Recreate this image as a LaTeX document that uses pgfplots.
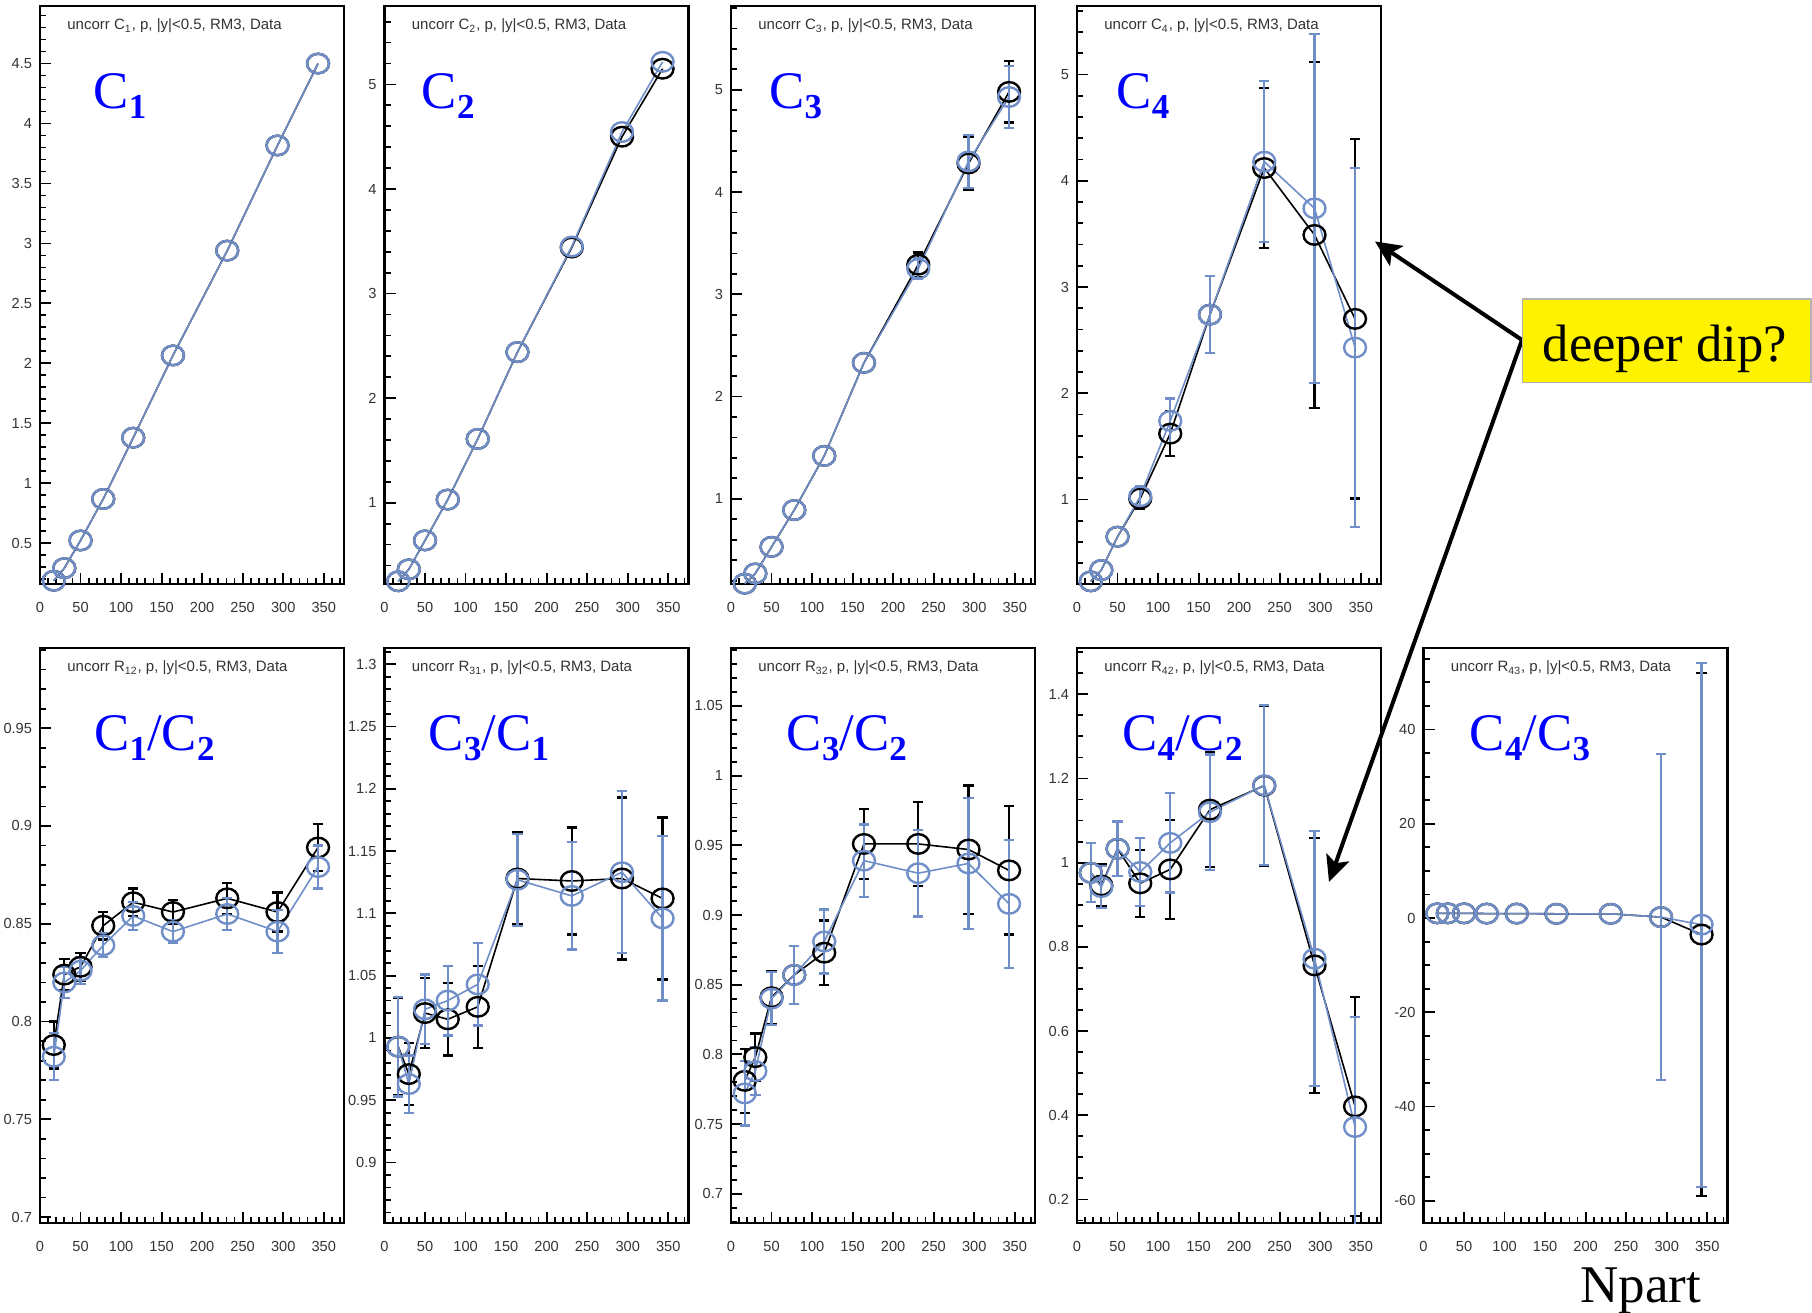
\documentclass[border=0pt]{standalone}
\usepackage{fontspec}
\setmainfont{Liberation Sans}
\newfontfamily\serif{Liberation Serif}
\usepackage{pgfplots}
\usepackage{pgfplotstable}
\pgfplotsset{compat=1.18}
\usetikzlibrary{arrows.meta}
\definecolor{myblue}{RGB}{112,143,200}
\pgfplotsset{
  panel/.style={
    scale only axis, width=152pt, anchor=south west,
    xmin=0, xmax=375,
    xtick={0,50,...,350}, minor xtick={10,20,...,370},
    xtick pos=bottom, ytick pos=left, tick align=inside,
    axis line style={line width=1.1pt},
    major tick length=5.5pt, minor tick length=3pt,
    tick style={black, line width=0.9pt},
    tick label style={font=\fontsize{7.3}{8}\selectfont, text=black!80},
    xticklabel style={yshift=-5.5pt},
    yticklabel style={xshift=-0.5pt},
    /pgf/number format/assume math mode=true,
  },
  toprow/.style={panel, height=289pt},
  botrow/.style={panel, height=287.5pt},
  blk/.style={black, line width=0.8pt, mark=o, mark size=4.9pt,
    mark options={line width=1.2pt, xscale=1.12}},
  blu/.style={blk, color=myblue},
  err/.style={draw=none, mark=none,
    error bars/y dir=both, error bars/y explicit,
    error bars/error bar style={draw=#1, line width=1.1pt},
    error bars/error mark options={draw=#1, rotate=90, mark size=2.6pt, line width=1.1pt},
    y filter/.expression={\thisrow{e}>0 ? y : nan}, unbounded coords=discard},
}
\newcommand{\ttl}[1]{\node[anchor=base west, inner sep=0, font=\fontsize{7.5}{8}\selectfont, text=black!80, xshift=13.5pt, yshift=-12pt] at (rel axis cs:0,1) {uncorr #1, p, |y|<0.5, RM3, Data};}
\newcommand{\Sb}[1]{\raisebox{-5pt}{\fontsize{17.5}{18}\selectfont\bfseries #1}}
\newcommand{\biglab}[2]{\node[anchor=base west, inner sep=0, text=blue, xshift=#1, yshift=-51.4pt] at (rel axis cs:0,1) {\serif\fontsize{26.4}{28}\selectfont #2};}
\newcommand{\pair}[2]{%
  \addplot[blk] table[x=x,y=y] {#1};
  \addplot[err=black] table[x=x,y=y,y error=e] {#1};
  \addplot[blu] table[x=x,y=y] {#2};
  \addplot[err=myblue] table[x=x,y=y,y error=e] {#2};
}
% ---- data: x = Npart, y = value, e = error (0 = bar hidden inside marker)
\pgfplotstableread[row sep=\\]{x y e\\17 0.187 0\\30 0.292 0\\50 0.523 0\\78 0.869 0\\115 1.38 0\\164 2.066 0\\231 2.94 0\\293 3.817 0\\343 4.5 0\\}\tAk
\pgfplotstableread[row sep=\\]{x y e\\17 0.187 0\\30 0.292 0\\50 0.523 0\\78 0.869 0\\115 1.38 0\\164 2.066 0\\231 2.94 0\\293 3.817 0\\343 4.5 0\\}\tAb
\pgfplotstableread[row sep=\\]{x y e\\17 0.249 0\\30 0.363 0\\50 0.64 0\\78 1.03 0\\115 1.61 0\\164 2.44 0\\231 3.44 0\\293 4.50 0\\343 5.15 0\\}\tBk
\pgfplotstableread[row sep=\\]{x y e\\17 0.249 0\\30 0.363 0\\50 0.64 0\\78 1.03 0\\115 1.61 0\\164 2.44 0\\231 3.45 0\\293 4.545 0\\343 5.216 0\\}\tBb
\pgfplotstableread[row sep=\\]{x y e\\17 0.17 0\\30 0.27 0\\50 0.53 0\\78 0.89 0\\115 1.42 0\\164 2.33 0\\231 3.29 0.12\\293 4.28 0.26\\343 4.98 0.3\\}\tCk
\pgfplotstableread[row sep=\\]{x y e\\17 0.17 0\\30 0.27 0\\50 0.53 0\\78 0.89 0\\115 1.42 0\\164 2.33 0\\231 3.25 0.1\\293 4.30 0.26\\343 4.93 0.3\\}\tCb
\pgfplotstableread[row sep=\\]{x y e\\17 0.23 0\\30 0.336 0\\50 0.65 0\\78 1.01 0.1\\115 1.62 0.21\\164 2.74 0.36\\231 4.12 0.75\\293 3.49 1.63\\343 2.70 1.69\\}\tDk
\pgfplotstableread[row sep=\\]{x y e\\17 0.23 0\\30 0.336 0\\50 0.65 0\\78 1.03 0.1\\115 1.74 0.21\\164 2.74 0.36\\231 4.18 0.76\\293 3.74 1.64\\343 2.43 1.69\\}\tDb
\pgfplotstableread[row sep=\\]{x y e\\17 0.788 0.012\\30 0.824 0.008\\50 0.828 0.007\\78 0.849 0.007\\115 0.861 0.007\\164 0.856 0.006\\231 0.863 0.008\\293 0.856 0.010\\343 0.889 0.012\\}\tEk
\pgfplotstableread[row sep=\\]{x y e\\17 0.782 0.012\\30 0.820 0.008\\50 0.826 0.007\\78 0.839 0.006\\115 0.854 0.007\\164 0.846 0.006\\231 0.855 0.008\\293 0.846 0.011\\343 0.879 0.011\\}\tEb
\pgfplotstableread[row sep=\\]{x y e\\17 0.993 0.039\\30 0.971 0.025\\50 1.020 0.028\\78 1.015 0.029\\115 1.025 0.033\\164 1.128 0.037\\231 1.126 0.043\\293 1.128 0.065\\343 1.112 0.065\\}\tFk
\pgfplotstableread[row sep=\\]{x y e\\17 0.993 0.040\\30 0.963 0.023\\50 1.023 0.028\\78 1.030 0.028\\115 1.043 0.033\\164 1.127 0.037\\231 1.114 0.043\\293 1.133 0.065\\343 1.096 0.066\\}\tFb
\pgfplotstableread[row sep=\\]{x y e\\17 0.781 0.023\\30 0.798 0.017\\50 0.841 0.019\\78 0.857 0.021\\115 0.873 0.023\\164 0.951 0.025\\231 0.951 0.030\\293 0.947 0.046\\343 0.932 0.046\\}\tGk
\pgfplotstableread[row sep=\\]{x y e\\17 0.772 0.023\\30 0.788 0.017\\50 0.840 0.019\\78 0.857 0.021\\115 0.881 0.023\\164 0.939 0.026\\231 0.930 0.031\\293 0.937 0.047\\343 0.908 0.046\\}\tGb
\pgfplotstableread[row sep=\\]{x y e\\17 0.976 0.07\\30 0.946 0.05\\50 1.033 0.065\\78 0.951 0.08\\115 0.984 0.118\\164 1.126 0.137\\231 1.183 0.19\\293 0.756 0.303\\343 0.421 0.26\\}\tHk
\pgfplotstableread[row sep=\\]{x y e\\17 0.976 0.07\\30 0.942 0.05\\50 1.033 0.065\\78 0.978 0.08\\115 1.047 0.118\\164 1.12 0.137\\231 1.184 0.19\\293 0.772 0.303\\343 0.372 0.262\\}\tHb
\pgfplotstableread[row sep=\\]{x y e\\17 1.0 0\\30 1.0 0\\50 1.0 0\\78 0.95 0\\115 0.95 0\\164 0.9 0\\231 0.9 0\\293 0.2 34.6\\343 -3.5 55.5\\}\tIk
\pgfplotstableread[row sep=\\]{x y e\\17 1.0 0\\30 1.0 0\\50 1.0 0\\78 0.95 0\\115 0.95 0\\164 0.9 0\\231 0.9 0\\293 0.2 34.6\\343 -1.4 55.6\\}\tIb
\begin{document}
\begin{tikzpicture}
\useasboundingbox (0,0) rectangle (906pt,656.5pt);
% ---------------- C1
\begin{axis}[toprow, at={(20pt,364.5pt)}, ymin=0.16, ymax=4.98,
  ytick={0.5,1,...,4.5}, minor ytick={0.2,0.3,...,4.95}]
\pair{\tAk}{\tAb}
\ttl{C\textsubscript{1}}
\biglab{26.6pt}{C\Sb{1}}
\end{axis}
% ---------------- C2
\begin{axis}[toprow, at={(192.25pt,364.5pt)}, ymin=0.223, ymax=5.75,
  ytick={1,2,3,4,5}, minor ytick={0.4,0.6,...,5.7}]
\pair{\tBk}{\tBb}
\ttl{C\textsubscript{2}}
\biglab{18.5pt}{C\Sb{2}}
\end{axis}
% ---------------- C3
\begin{axis}[toprow, at={(365.5pt,364.5pt)}, ymin=0.167, ymax=5.82,
  ytick={1,2,3,4,5}, minor ytick={0.2,0.4,...,5.8}]
\pair{\tCk}{\tCb}
\ttl{C\textsubscript{3}}
\biglab{19pt}{C\Sb{3}}
\end{axis}
% ---------------- C4
\begin{axis}[toprow, at={(538.5pt,364.5pt)}, ymin=0.205, ymax=5.645,
  ytick={1,2,3,4,5}, minor ytick={0.4,0.6,...,5.6}]
\pair{\tDk}{\tDb}
\ttl{C\textsubscript{4}}
\biglab{19.6pt}{C\Sb{4}}
\end{axis}
% ---------------- C1/C2
\begin{axis}[botrow, at={(20pt,45pt)}, ymin=0.697, ymax=0.991,
  ytick={0.7,0.75,...,0.96}, minor ytick={0.70,0.71,...,0.99}]
\pair{\tEk}{\tEb}
\ttl{R\textsubscript{12}}
\biglab{27pt}{C\Sb{1}/C\Sb{2}}
\end{axis}
% ---------------- C3/C1
\begin{axis}[botrow, at={(192.25pt,45pt)}, ymin=0.8515, ymax=1.313,
  ytick={0.9,0.95,...,1.31}, minor ytick={0.86,0.87,...,1.31}]
\pair{\tFk}{\tFb}
\ttl{R\textsubscript{31}}
\biglab{22pt}{C\Sb{3}/C\Sb{1}}
\end{axis}
% ---------------- C3/C2
\begin{axis}[botrow, at={(365.5pt,45pt)}, ymin=0.679, ymax=1.0916,
  ytick={0.7,0.75,...,1.06}, minor ytick={0.68,0.69,...,1.09}]
\pair{\tGk}{\tGb}
\ttl{R\textsubscript{32}}
\biglab{27.7pt}{C\Sb{3}/C\Sb{2}}
\end{axis}
% ---------------- C4/C2
\begin{axis}[botrow, at={(538.5pt,45pt)}, ymin=0.144, ymax=1.51,
  ytick={0.2,0.4,...,1.41}, minor ytick={0.15,0.2,...,1.5}]
\pair{\tHk}{\tHb}
\ttl{R\textsubscript{42}}
\biglab{22.5pt}{C\Sb{4}/C\Sb{2}}
\end{axis}
% ---------------- C4/C3
\begin{axis}[botrow, at={(711.75pt,45pt)}, ymin=-64.7, ymax=57.3,
  ytick={-60,-40,...,40}, minor ytick={-60,-55,...,55}]
\pair{\tIk}{\tIb}
\ttl{R\textsubscript{43}}
\biglab{23pt}{C\Sb{4}/C\Sb{3}}
\end{axis}
% ---------------- annotations
\draw[line width=2pt, -{Stealth[length=13pt,width=12pt,inset=3pt]}] (761pt,486.5pt) -- (687.5pt,535.75pt);
\draw[line width=2pt, -{Stealth[length=13pt,width=12pt,inset=3pt]}] (761pt,486.5pt) -- (664.5pt,215.5pt);
\filldraw[fill=yellow, draw=black!30, line width=0.8pt] (761.15pt,465.15pt) rectangle (905.35pt,506.85pt);
\node[anchor=base, inner sep=0] at (832.35pt,475.6pt) {\serif\fontsize{26.3}{28}\selectfont deeper dip?};
\node[anchor=base west, inner sep=0] at (790pt,5pt) {\serif\fontsize{26.5}{28}\selectfont Npart};
\end{tikzpicture}
\end{document}
